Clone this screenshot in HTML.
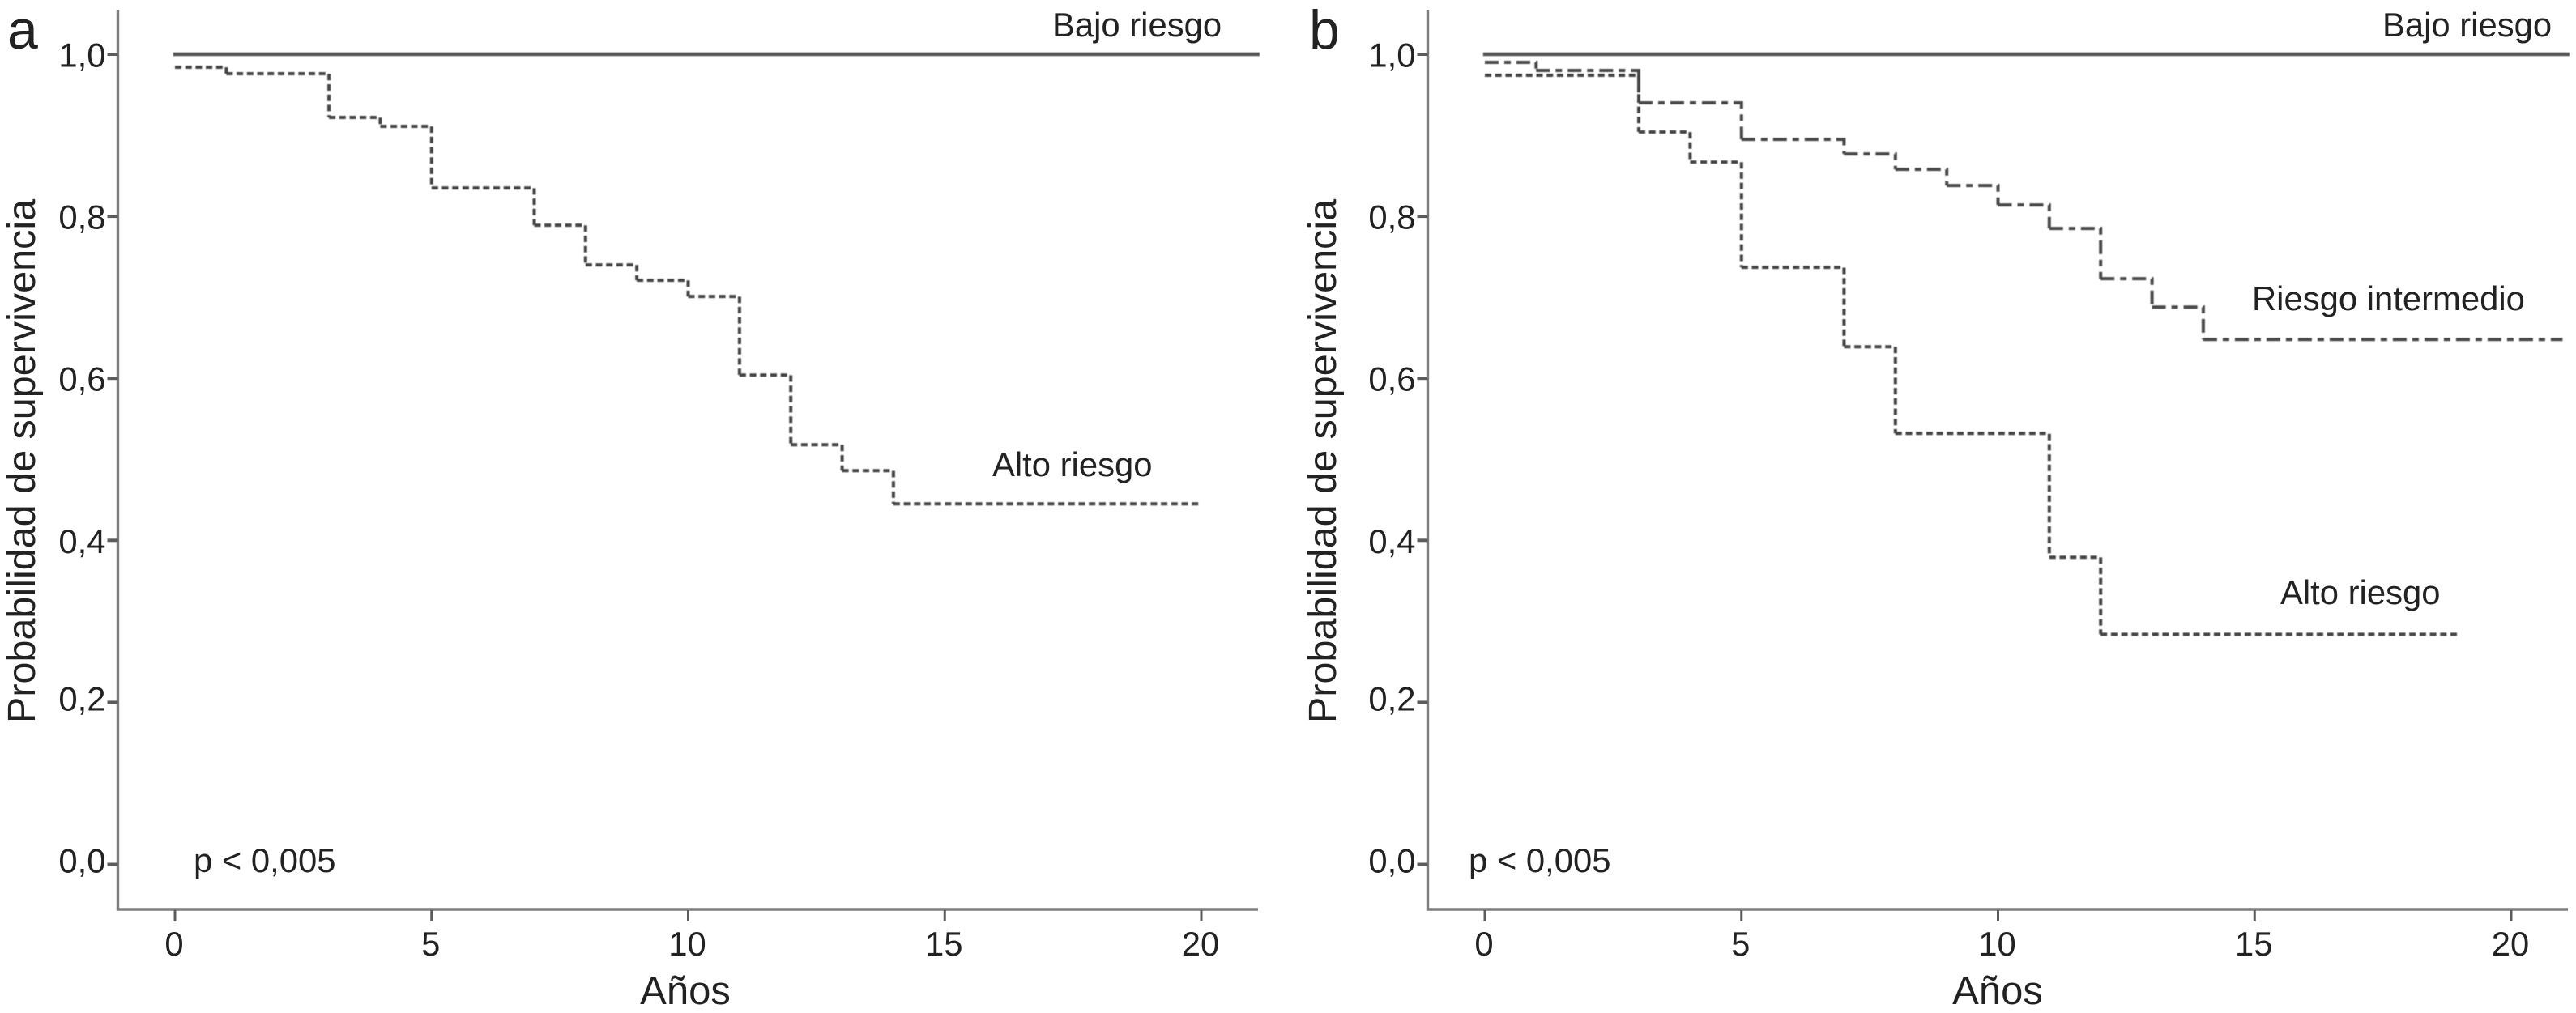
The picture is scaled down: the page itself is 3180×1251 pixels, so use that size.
<!DOCTYPE html>
<html lang="es">
<head>
<meta charset="utf-8">
<title>Curvas de supervivencia</title>
<style>
html,body{margin:0;padding:0;background:#fff;width:3180px;height:1251px;overflow:hidden}
svg{display:block}
text{font-family:"Liberation Sans",sans-serif;fill:#222}
.lbl{font-size:41.8px}
.title{font-size:48.5px}
.letter{font-size:68px}
.axis{stroke:#7d7d7d;stroke-width:3.4;fill:none}
.tick{stroke:#5c5c5c;fill:none}
.bajo{stroke:#555;stroke-width:4.4;fill:none;stroke-linecap:square}
.alto{stroke:#444;stroke-width:4;fill:none;stroke-dasharray:8 4.7}
.inter{stroke:#4a4a4a;stroke-width:4;fill:none;stroke-dasharray:17 7 8 7}
</style>
</head>
<body>
<svg id="chart" xmlns="http://www.w3.org/2000/svg" width="3180" height="1251" viewBox="0 0 3180 1251">
  <defs><filter id="soft" x="-2%" y="-2%" width="104%" height="104%"><feGaussianBlur stdDeviation="0.6"/></filter></defs>
  <rect width="3180" height="1251" fill="#fff"/>
  <g id="panel-a"></g>
  <g id="panel-b"></g>

  <text class="letter" x="9" y="60">a</text>
  <text class="letter" x="1616" y="60">b</text>

  <text class="title" transform="translate(43,893) rotate(-90)">Probabilidad de supervivencia</text>
  <text class="title" transform="translate(1649,893) rotate(-90)">Probabilidad de supervivencia</text>
  <text class="title" x="846" y="1240" text-anchor="middle" style="font-size:49px">Años</text>
  <text class="title" x="2466" y="1240" text-anchor="middle" style="font-size:49px">Años</text>

  <text class="lbl" x="1299" y="45">Bajo riesgo</text>
  <text class="lbl" x="1225" y="588">Alto riesgo</text>
  <text class="lbl" x="239" y="1077">p &lt; 0,005</text>
  <text class="lbl" x="2941" y="45">Bajo riesgo</text>
  <text class="lbl" x="2780" y="383">Riesgo intermedio</text>
  <text class="lbl" x="2815" y="746">Alto riesgo</text>
  <text class="lbl" x="1813" y="1077">p &lt; 0,005</text>
</svg>
<script>
const xTicks = [0, 5, 10, 15, 20];
const yTicks = [1.0, 0.8, 0.6, 0.4, 0.2, 0.0];
const yTickLabels = ['1,0', '0,8', '0,6', '0,4', '0,2', '0,0'];

const bajoYears = [0, 21.1];
const bajoSurvival = [1.0, 1.0];

const altoAYears = [0, 1, 3, 4, 5, 7, 8, 9, 10, 11, 12, 13, 14, 20];
const altoASurvival = [0.984, 0.976, 0.922, 0.911, 0.835, 0.789, 0.74, 0.721, 0.701, 0.604, 0.518, 0.486, 0.445, 0.445];

const altoBYears = [0, 3, 4, 5, 7, 8, 11, 12, 19];
const altoBSurvival = [0.974, 0.904, 0.867, 0.737, 0.639, 0.532, 0.379, 0.284, 0.284];

const interBYears = [0, 1, 3, 5, 7, 8, 9, 10, 11, 12, 13, 14, 21];
const interBSurvival = [0.99, 0.98, 0.94, 0.895, 0.877, 0.858, 0.838, 0.814, 0.785, 0.723, 0.688, 0.648, 0.648];

const NS = 'http://www.w3.org/2000/svg';
const PX_PER_YEAR = 63.35;
const yScale = v => 1067.5 - 1000.5 * v;

function make(parent, tag, attrs, text) {
  const el = document.createElementNS(NS, tag);
  for (const k in attrs) el.setAttribute(k, attrs[k]);
  if (text !== undefined) el.textContent = text;
  parent.appendChild(el);
  return el;
}

// one sub-path per step so that the dash pattern restarts at every drop, as in the figure
function stepPath(xScale, years, vals) {
  let d = '';
  for (let i = 0; i < years.length - 1; i++) {
    const y = yScale(vals[i]);
    d += 'M' + xScale(years[i]).toFixed(1) + ' ' + y.toFixed(1) + 'H' + xScale(years[i + 1]).toFixed(1);
    if (vals[i + 1] !== vals[i]) d += 'V' + yScale(vals[i + 1]).toFixed(1);
  }
  return d;
}

function drawPanel(id, axisX, x0, axisRight, series) {
  const root = document.getElementById(id);
  const xScale = t => x0 + PX_PER_YEAR * t;

  const yAxis = make(root, 'path', {class: 'axis', d: 'M' + axisX + ' 12V1123'});
  
  

  const xAxis = make(root, 'path', {class: 'axis', d: 'M' + (axisX - 1.7) + ' 1123H' + axisRight});
  
  

  yTicks.forEach((v, i) => {
    const y = yScale(v);
    const t = make(root, 'path', {class: 'tick', 'stroke-width': 4, d: 'M' + (axisX - 13) + ' ' + y + 'H' + axisX});
    
    
    const off = v >= 0.4 ? 15.5 : 10;
    const l = make(root, 'text', {class: 'lbl', x: axisX - 15, y: y + off, 'text-anchor': 'end'}, yTickLabels[i]);
    
    
  });

  xTicks.forEach(v => {
    const x = xScale(v);
    const t = make(root, 'path', {class: 'tick', 'stroke-width': 3, d: 'M' + x + ' 1124V1138'});
    
    
    const l = make(root, 'text', {class: 'lbl', x: x - 1, y: 1180, 'text-anchor': 'middle'}, String(v));
    
    
  });

  const marks = make(root, 'g', {filter: 'url(#soft)'});
  
  

  series.forEach(s => {
    const p = make(marks, 'path', {class: s.cls, d: stepPath(xScale, s.years, s.vals)});
    
    
  });
}

drawPanel('panel-a', 145.5, 216, 1553, [
  {cls: 'bajo', name: 'panel-a-bajo-riesgo-line', years: bajoYears, vals: bajoSurvival},
  {cls: 'alto', name: 'panel-a-alto-riesgo-line', years: altoAYears, vals: altoASurvival}
]);
drawPanel('panel-b', 1762.5, 1833, 3170, [
  {cls: 'bajo', name: 'panel-b-bajo-riesgo-line', years: bajoYears, vals: bajoSurvival},
  {cls: 'inter', name: 'panel-b-riesgo-intermedio-line', years: interBYears, vals: interBSurvival},
  {cls: 'alto', name: 'panel-b-alto-riesgo-line', years: altoBYears, vals: altoBSurvival}
]);
</script>
</body>
</html>
